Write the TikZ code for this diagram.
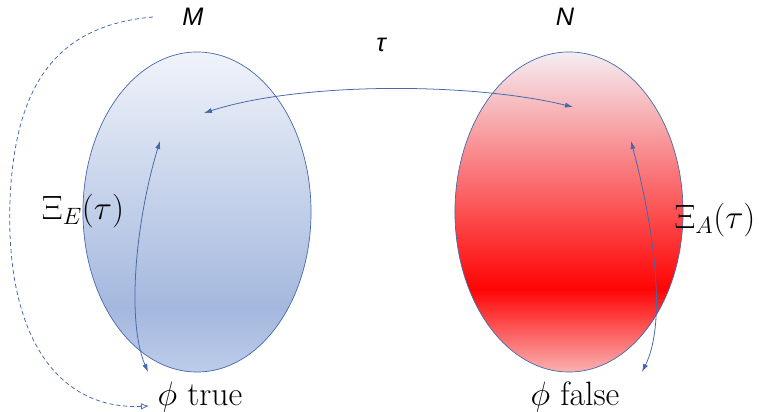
\RequirePackage{fix-cm}
\documentclass[tikz,border=0pt]{standalone}
\usepackage{fontspec}
\newfontfamily\setfont{Liberation Sans}
\usetikzlibrary{arrows.meta,shapes.geometric}
\definecolor{lineblue}{RGB}{70,104,172}
\definecolor{blueTop}{RGB}{240,243,250}
\definecolor{blueMid}{RGB}{164,184,222}
\definecolor{blueBot}{RGB}{188,204,234}
\definecolor{redTop}{RGB}{244,238,243}
\definecolor{redMid}{RGB}{255,4,4}
\definecolor{redBot}{RGB}{250,178,178}
\pgfdeclareverticalshading{bluefade}{100bp}{color(0bp)=(blueBot); color(25bp)=(blueBot); color(35bp)=(blueMid); color(75bp)=(blueTop); color(100bp)=(blueTop)}
\pgfdeclareverticalshading{redfade}{100bp}{color(0bp)=(redBot); color(25bp)=(redBot); color(38bp)=(redMid); color(75bp)=(redTop); color(100bp)=(redTop)}
\tikzset{
  model/.style={ellipse, draw=lineblue, line width=0.5pt, minimum width=5.7cm, minimum height=8cm, inner sep=0pt},
  modelM/.style={model, shading=bluefade},
  modelN/.style={model, shading=redfade},
  setname/.style={font=\setfont\itshape\fontsize{18}{20}\selectfont, inner sep=1pt},
  bigmath/.style={font=\fontsize{24}{28}\selectfont, inner sep=1pt},
  link/.style={{Latex[length=2mm,width=1.3mm]}-{Latex[length=2mm,width=1.3mm]}, line width=0.55pt, lineblue},
  dashlink/.style={-{Latex[open,length=2mm,width=1.6mm]}, line width=0.55pt, lineblue, dash pattern=on 3pt off 2pt}
}
\begin{document}
\begin{tikzpicture}[x=0.025cm,y=-0.025cm]
  \useasboundingbox (0,0) rectangle (759,412);
  \node[modelM] (m) at (197,212) {};
  \node[modelN] (n) at (569,212) {};
  \node[setname] (mname) at (193,17) {M};
  \node[setname] (nname) at (565,17) {N};
  \node[setname] (tau) at (381,45) {τ};
  \node[bigmath] (xiE) at (83,211) {$\Xi_E(\tau)$};
  \node[bigmath] (xiA) at (715,220) {$\Xi_A(\tau)$};
  \node[bigmath, anchor=base] (ptrue) at (200,406) {$\phi$ true};
  \node[bigmath, anchor=base] (pfalse) at (575,406) {$\phi$ false};
  % end points of the connectors
  \coordinate (mPt) at (204,113);
  \coordinate (nPt) at (573,107);
  \coordinate (mIn) at (160,141);
  \coordinate (mOut) at (148,372);
  \coordinate (nIn) at (631,141);
  \coordinate (nOut) at (642,372);
  \coordinate (dStart) at (153,17);
  \coordinate (dEnd) at (149,406);
  \draw[link] (mPt) .. controls (300,82) and (470,82) .. (nPt);
  \draw[link] (mIn) .. controls (136,220) and (126,320) .. (mOut);
  \draw[link] (nIn) .. controls (652,220) and (668,320) .. (nOut);
  \draw[dashlink] (dStart) .. controls (60,25) and (15,80) .. (10,200)
    .. controls (5,340) and (60,410) .. (dEnd);
\end{tikzpicture}
\end{document}
